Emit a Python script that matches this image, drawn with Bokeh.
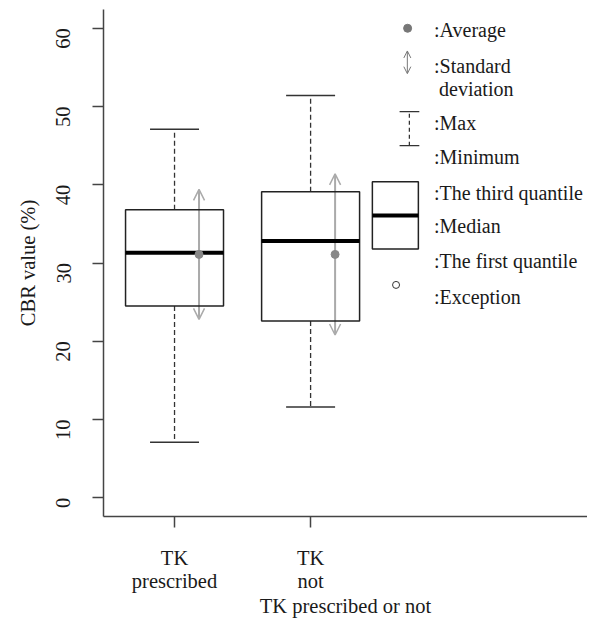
import math
from bokeh.plotting import figure
from bokeh.models import (ColumnDataSource, FixedTicker, Arrow, OpenHead, Range1d)
from bokeh.core.properties import value
from bokeh.embed import file_html
from bokeh.resources import INLINE

# ---- data ----
positions = [1, 2]
tick_labels = ["TK\nprescribed", "TK\nnot"]
q1 = [24.5, 22.6]
median = [31.3, 32.8]
q3 = [36.8, 39.1]
minimum = [7.1, 11.6]
maximum = [47.1, 51.4]
mean = [31.1, 31.1]
sd = [8.3, 10.3]
y_ticks = [0, 10, 20, 30, 40, 50, 60]

legend_texts = [":Average", ":Standard", "\u00a0deviation", ":Max", ":Minimum",
                ":The third quantile", ":Median", ":The first quantile", ":Exception"]
legend_text_y = [59.75, 55.2, 52.25, 47.95, 43.6, 38.95, 34.7, 30.25, 25.7]

FONT = "Liberation Serif"
TXT = "#1a1a1a"
AX = "#444444"

BW = 0.36   # half box width
CW = 0.18   # half cap width

p = figure(width=587, height=619, output_backend="svg", toolbar_location=None,
           x_range=Range1d(0.478, 4.035), y_range=Range1d(-2.4, 62.4),
           min_border_left=103, min_border_right=0, min_border_top=9, min_border_bottom=99)
p.outline_line_color = None
p.xgrid.visible = False
p.ygrid.visible = False
p.background_fill_color = "white"

bx = [x for x in positions]
src = ColumnDataSource(dict(
    x=bx,
    left=[x - BW for x in bx], right=[x + BW for x in bx],
    cl=[x - CW for x in bx], cr=[x + CW for x in bx],
    q1=q1, q3=q3, med=median, mn=minimum, mx=maximum,
    mean=mean, sdx=[x + CW for x in bx],
    lo=[m - s for m, s in zip(mean, sd)], hi=[m + s for m, s in zip(mean, sd)],
))

# SD arrows (under the boxes)
arr = Arrow(source=src, x_start="sdx", y_start="lo", x_end="sdx", y_end="hi",
            line_color="#aaaaaa", line_width=2,
            start=OpenHead(size=11, line_color="#aaaaaa", line_width=1.5),
            end=OpenHead(size=11, line_color="#aaaaaa", line_width=1.5),
            level="underlay")
p.add_layout(arr)

# whiskers
p.segment(x0="x", y0="q3", x1="x", y1="mx", source=src, line_color="#333333",
          line_width=1.3, line_dash="5 3")
p.segment(x0="x", y0="q1", x1="x", y1="mn", source=src, line_color="#333333",
          line_width=1.3, line_dash="5 3")
p.segment(x0="cl", y0="mx", x1="cr", y1="mx", source=src, line_color="#333333", line_width=1.5)
p.segment(x0="cl", y0="mn", x1="cr", y1="mn", source=src, line_color="#333333", line_width=1.5)

# boxes
p.quad(left="left", right="right", bottom="q1", top="q3", source=src,
       fill_color=None, line_color="#222222", line_width=1.5)
p.segment(x0="left", y0="med", x1="right", y1="med", source=src,
          line_color="black", line_width=4)
# means
p.scatter(x="sdx", y="mean", source=src, size=8, fill_color="#888888", line_color="#888888")

# ---- legend (drawn inside plot) ----
p.scatter(x=[2.713], y=[60.0], size=8, fill_color="#777777", line_color="#777777")
p.add_layout(Arrow(x_start=2.711, y_start=54.2, x_end=2.711, y_end=57.1,
                   line_color="#777777", line_width=1,
                   start=OpenHead(size=7, line_color="#777777", line_width=1),
                   end=OpenHead(size=7, line_color="#777777", line_width=1)))
p.segment(x0=[2.654, 2.654], y0=[49.35, 44.99], x1=[2.799, 2.799], y1=[49.35, 44.99],
          line_color="#333333", line_width=1.3)
p.segment(x0=[2.726], y0=[45.0], x1=[2.726], y1=[49.3], line_color="#333333",
          line_width=1.3, line_dash="4 3")
p.quad(left=[2.454], right=[2.792], bottom=[31.8], top=[40.4], fill_color=None,
       line_color="#222222", line_width=1.5)
p.segment(x0=[2.454], y0=[36.07], x1=[2.792], y1=[36.07], line_color="black", line_width=4)
p.scatter(x=[2.628], y=[27.2], size=7, fill_color="white", line_color="#333333", line_width=1)
p.text(x=[2.907] * len(legend_texts), y=legend_text_y, text=legend_texts,
       text_font=value(FONT), text_font_size="20px", text_color=TXT,
       text_align="left", text_baseline="middle")

# ---- axes ----
p.xaxis.ticker = FixedTicker(ticks=positions)
p.xaxis.major_label_overrides = {x: t for x, t in zip(positions, tick_labels)}
p.yaxis.ticker = FixedTicker(ticks=y_ticks)
p.xaxis.axis_label = "TK prescribed or not"
p.yaxis.axis_label = "CBR value (%)"
for ax in (p.xaxis, p.yaxis):
    ax.axis_line_color = AX
    ax.axis_line_width = 1.5
    ax.major_tick_line_color = AX
    ax.major_tick_line_width = 1.5
    ax.major_tick_out = 11
    ax.major_tick_in = 0
    ax.minor_tick_line_color = None
    ax.major_label_text_font = FONT
    ax.major_label_text_font_size = "20.5px"
    ax.major_label_text_color = TXT
    ax.axis_label_text_font = FONT
    ax.axis_label_text_font_size = "20.5px"
    ax.axis_label_text_font_style = "normal"
    ax.axis_label_text_color = TXT
p.yaxis.major_label_orientation = math.pi / 2
p.yaxis.major_label_standoff = 29
p.yaxis.axis_label_standoff = 8
p.xaxis.major_label_standoff = 19
p.xaxis.major_label_text_line_height = 1.05
p.xaxis.axis_label_standoff = 0

open("out.html", "w").write(file_html(p, INLINE))
